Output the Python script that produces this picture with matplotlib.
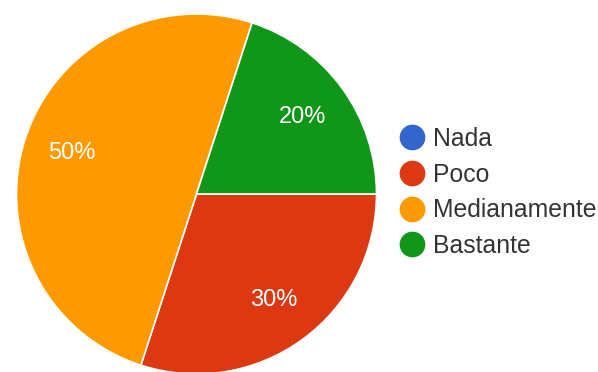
import matplotlib
matplotlib.use("Agg")
import matplotlib.pyplot as plt
from matplotlib.lines import Line2D

plt.rcParams['font.family'] = ['Liberation Sans', 'DejaVu Sans']

categories = ["Nada", "Poco", "Medianamente", "Bastante"]
percentages = [0, 30, 50, 20]
colors = ["#3366cc", "#dc3912", "#ff9900", "#109618"]

W, H = 598, 372
fig = plt.figure(figsize=(W / 100, H / 100), dpi=100)
ax = fig.add_axes([0, 0, 1, 1])

def pct_label(p):
    return f"{p:.0f}%" if p >= 1 else ""

wedges, texts, autotexts = ax.pie(
    percentages,
    colors=colors,
    center=(196.5, 178),
    radius=180,
    startangle=0,
    counterclock=False,
    autopct=pct_label,
    pctdistance=0.73,
    wedgeprops=dict(edgecolor="white", linewidth=1.2),
    textprops=dict(color="white", fontsize=17),
    frame=True,
)
ax.set_xlim(0, W)
ax.set_ylim(0, H)
ax.set_aspect('equal')
ax.axis('off')

handles = [Line2D([], [], linestyle='none', marker='o', markersize=17.5,
                  markerfacecolor=c, markeredgecolor=c) for c in colors]
leg = ax.legend(handles, categories, loc='center left',
                bbox_to_anchor=(400 / W, 1 - 192.5 / H),
                frameon=False, fontsize=17.8, labelcolor="#333333",
                handlelength=1.0, handletextpad=0.35, labelspacing=0.47,
                borderpad=0, borderaxespad=0)

fig.savefig("out.png", dpi=100)
